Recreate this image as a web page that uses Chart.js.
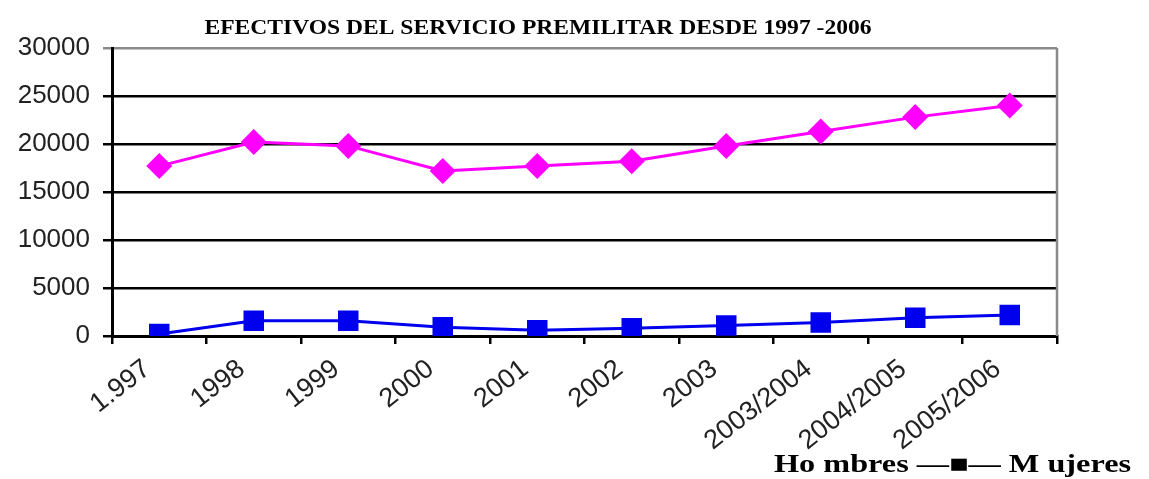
<!DOCTYPE html>
<html>
<head>
<meta charset="utf-8">
<script src="https://cdn.jsdelivr.net/npm/chart.js@4/dist/chart.umd.min.js"></script>
<style>
  body { margin: 0; background: #fff; }
  canvas { display: block; }
</style>
</head>
<body>
<canvas id="premilitar" width="1149" height="479"></canvas>
<script>
const years = ['1.997', '1998', '1999', '2000', '2001', '2002', '2003', '2003/2004', '2004/2005', '2005/2006'];
const hombres = [17700, 20200, 19800, 17200, 17700, 18200, 19800, 21300, 22800, 24000];
const mujeres = [200, 1600, 1600, 900, 600, 800, 1100, 1400, 1900, 2200];
const yTicks = [0, 5000, 10000, 15000, 20000, 25000, 30000];

const titleText = 'EFECTIVOS DEL SERVICIO PREMILITAR DESDE 1997 -2006';
const legendText = 'Ho mbres \u2014\u25A0\u2014 M ujeres';

// text squeezed/stretched to the width it takes in the original
function fitText(ctx, text, font, x, y, width, align) {
    ctx.font = font;
    const w = ctx.measureText(text).width;
    const sx = width / w;
    const left = align === 'right' ? x - width : align === 'center' ? x - width / 2 : x;
    ctx.save();
    ctx.translate(left, y);
    ctx.scale(sx, 1);
    ctx.textAlign = 'left';
    ctx.fillText(text, 0, 0);
    ctx.restore();
}

// title, legend text and the grey right edge of the plot
const extras = {
    id: 'extras',
    afterDraw(chart) {
        const ctx = chart.ctx;
        const area = chart.chartArea;
        ctx.save();
        ctx.strokeStyle = '#8a8a8a';
        ctx.lineWidth = 2.5;
        ctx.beginPath();
        ctx.moveTo(area.right, area.top);
        ctx.lineTo(area.right, area.bottom);
        ctx.stroke();

        ctx.fillStyle = '#000';
        ctx.textBaseline = 'alphabetic';
        fitText(ctx, titleText, 'bold 20px "Liberation Serif"', 538, 34, 667, 'center');
        fitText(ctx, legendText, 'bold 25px "Liberation Serif"', 1131, 472, 357, 'right');
        ctx.restore();
    }
};

window.onload = () => {
    const ctx = document.getElementById('premilitar').getContext('2d');
    new Chart(ctx, {
        type: 'line',
        data: {
            labels: years,
            datasets: [
                {
                    label: 'Hombres',
                    data: hombres,
                    borderColor: '#ff00ff',
                    backgroundColor: '#ff00ff',
                    borderWidth: 3,
                    pointStyle: 'rectRot',
                    pointRadius: 13,
                    pointBorderWidth: 0,
                    tension: 0
                },
                {
                    label: 'Mujeres',
                    data: mujeres,
                    borderColor: '#0000ee',
                    backgroundColor: '#0000ee',
                    borderWidth: 3,
                    pointStyle: 'rect',
                    pointRadius: 14.5,
                    pointBorderWidth: 0,
                    tension: 0
                }
            ]
        },
        options: {
            responsive: false,
            animation: false,
            layout: { padding: { left: 0, top: 48, right: 92, bottom: 0 } },
            plugins: {
                legend: { display: false },
                title: { display: false },
                tooltip: { enabled: false }
            },
            scales: {
                x: {
                    offset: true,
                    afterFit: (scale) => { scale.height = 143; },
                    grid: {
                        offset: true,
                        drawOnChartArea: false,
                        drawTicks: true,
                        tickLength: 8,
                        color: '#000',
                        lineWidth: 2.5
                    },
                    border: { color: '#000', width: 3 },
                    ticks: {
                        autoSkip: false,
                        minRotation: 38,
                        maxRotation: 38,
                        padding: 9,
                        labelOffset: -12,
                        color: '#222',
                        font: { family: 'Arial, "Liberation Sans"', size: 27 }
                    }
                },
                y: {
                    min: 0,
                    max: 30000,
                    afterFit: (scale) => { scale.width = 112; },
                    afterBuildTicks: (scale) => { scale.ticks = yTicks.map(v => ({ value: v })); },
                    grid: {
                        color: (c) => c.tick && c.tick.value === 30000 ? '#8a8a8a' : '#000',
                        lineWidth: 2.5,
                        tickLength: 9
                    },
                    border: { color: '#000', width: 3 },
                    ticks: {
                        padding: 13,
                        color: '#222',
                        font: { family: 'Arial, "Liberation Sans"', size: 26 },
                        callback: (v) => String(v)
                    }
                }
            }
        },
        plugins: [extras]
    });
};
</script>
</body>
</html>
